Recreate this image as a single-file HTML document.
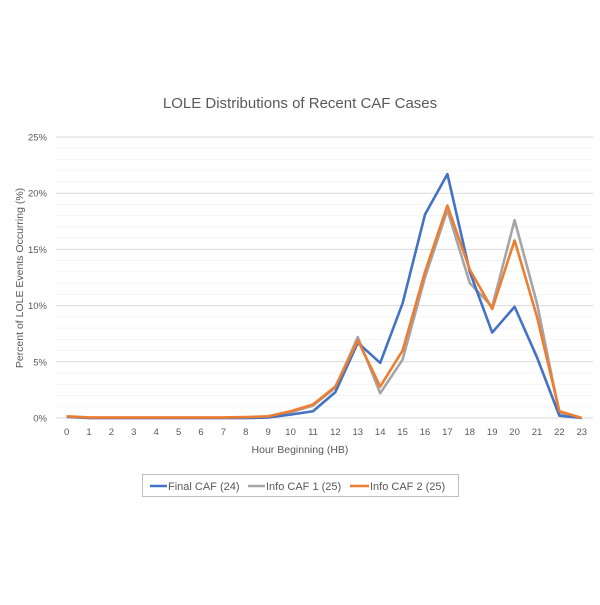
<!DOCTYPE html>
<html><head><meta charset="utf-8"><style>
body{margin:0;background:#fff;}
svg text{font-family:"Liberation Sans",sans-serif;fill:#595959;}
</style></head><body>
<svg id="s" width="600" height="600" xmlns="http://www.w3.org/2000/svg">
<rect width="600" height="600" fill="#fff"/>
<text x="300" y="108" font-size="15" text-anchor="middle" fill="#595959">LOLE Distributions of Recent CAF Cases</text>
<g id="grid"></g>
<g id="ylab" font-size="9.5" text-anchor="end"></g>
<g id="xlab" font-size="9.5" text-anchor="middle"></g>
<text x="300" y="453" font-size="10.5" text-anchor="middle">Hour Beginning (HB)</text>
<text transform="translate(23,278) rotate(-90)" font-size="10.5" text-anchor="middle">Percent of LOLE Events Occurring (%)</text>
<g id="lines" fill="none" stroke-width="2.6" stroke-linejoin="round"></g>
<rect x="142.5" y="474.5" width="316" height="22" fill="#fff" stroke="#bfbfbf"/>
<line x1="150" y1="486" x2="167" y2="486" stroke="#4472C4" stroke-width="2.6"/>
<text x="168" y="490" font-size="11">Final CAF (24)</text>
<line x1="248" y1="486" x2="265" y2="486" stroke="#A5A5A5" stroke-width="2.6"/>
<text x="266" y="490" font-size="11">Info CAF 1 (25)</text>
<line x1="350" y1="486" x2="369" y2="486" stroke="#ED7D31" stroke-width="2.6"/>
<text x="370" y="490" font-size="11">Info CAF 2 (25)</text>
</svg>
<script>
var ns="http://www.w3.org/2000/svg";
function el(p,t,a,txt){var e=document.createElementNS(ns,t);for(var k in a)e.setAttribute(k,a[k]);if(txt!=null)e.textContent=txt;document.getElementById(p).appendChild(e);}
function Y(v){return 418-11.24*v;}
function X(h){return 66.6+22.4*h;}
for(var i=0;i<=25;i++){var y=Y(i);el("grid","line",{x1:56,x2:593,y1:y,y2:y,stroke:i%5==0?"#d9d9d9":"#f2f2f2","stroke-width":i%5==0?1:0.8});}
for(var i=0;i<=25;i+=5)el("ylab","text",{x:47,y:Y(i)+3.5},i+"%");
for(var h=0;h<24;h++)el("xlab","text",{x:X(h),y:435},h);
var data={
"#A5A5A5":[0.1,0,0,0,0,0,0,0,0,0.05,0.5,1.1,2.7,7.2,2.2,5.2,12.5,18.5,12,9.9,17.6,10.2,0.4,0],
"#4472C4":[0.1,0,0,0,0,0,0,0,0,0.05,0.3,0.6,2.3,6.7,4.9,10.2,18.1,21.7,13,7.6,9.9,5.4,0.2,0],
"#ED7D31":[0.15,0.05,0.05,0.05,0.05,0.05,0.05,0.05,0.08,0.15,0.6,1.2,2.8,6.9,2.8,6,13,18.9,13.2,9.7,15.8,9,0.6,0]};
for(var c in data){var p=data[c].map(function(v,h){return X(h)+","+Y(v);}).join(" ");el("lines","polyline",{points:p,stroke:c});}
</script>
</body></html>
